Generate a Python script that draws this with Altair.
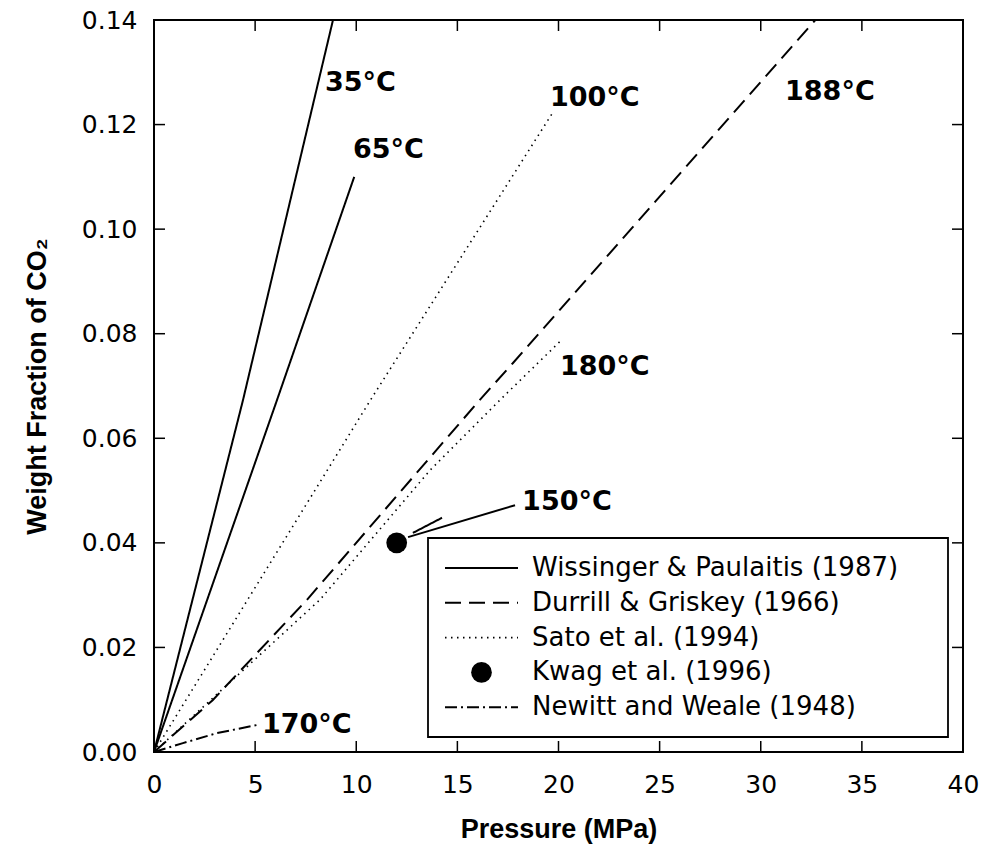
import altair as alt
import pandas as pd

# ---------------- data ----------------
# Wissinger & Paulaitis (1987) - solid
wis35_p = [0, 4.4, 8.85]
wis35_w = [0, 0.0673, 0.140]
wis65_p = [0, 6.08, 9.9]
wis65_w = [0, 0.0673, 0.110]
wis150_p = [12.8, 14.24]
wis150_w = [0.0419, 0.0448]
# Durrill & Griskey (1966) - dashed
dur188_p = [0, 2.9, 7.56, 16.1, 17.75, 32.7]
dur188_w = [0, 0.0099, 0.0291, 0.0673, 0.0744, 0.140]
# Sato et al. (1994) - dotted
sat100_p = [0, 10.7, 19.75]
sat100_w = [0, 0.0673, 0.1225]
sat180_p = [0, 8.2, 13.65, 17.1, 20.15]
sat180_w = [0, 0.0291, 0.0539, 0.0673, 0.0788]
# Kwag et al. (1996) - point
kwag_p = [12.0]
kwag_w = [0.040]
# Newitt and Weale (1948) - dash-dot
new170_p = [0, 1.43, 3.1, 5.14]
new170_w = [0, 0.0017, 0.0036, 0.0052]

# temperature labels
lab_text = ["35°C", "65°C", "100°C", "188°C", "180°C", "150°C", "170°C"]
lab_p = [8.45, 9.84, 19.58, 31.2, 20.07, 18.2, 5.34]
lab_w = [0.128, 0.1151, 0.1251, 0.1262, 0.0736, 0.0478, 0.0052]

# 150°C pointer
ptr_p = [12.56]
ptr_w = [0.0411]
ptr_p2 = [17.85]
ptr_w2 = [0.0472]

x_ticks = [0, 5, 10, 15, 20, 25, 30, 35, 40]
y_ticks = [0.00, 0.02, 0.04, 0.06, 0.08, 0.10, 0.12, 0.14]

legend_labels = ["Wissinger & Paulaitis (1987)", "Durrill & Griskey (1966)",
                 "Sato et al. (1994)", "Kwag et al. (1996)", "Newitt and Weale (1948)"]

# ---------------- build tables ----------------
curves = [
    ("wis35", "solid", wis35_p, wis35_w),
    ("wis65", "solid", wis65_p, wis65_w),
    ("wis150", "solid", wis150_p, wis150_w),
    ("dur188", "dashed", dur188_p, dur188_w),
    ("sat100", "dotted", sat100_p, sat100_w),
    ("sat180", "dotted", sat180_p, sat180_w),
    ("new170", "dashdot", new170_p, new170_w),
]
rows = []
for name, style, ps, ws in curves:
    for i, (p, w) in enumerate(zip(ps, ws)):
        rows.append({"curve": name, "style": style, "P": p, "w": w, "o": i})
lines_df = pd.DataFrame(rows)

W, H = 809, 732
xs = alt.Scale(domain=[0, 40], nice=False, zero=False)
ys = alt.Scale(domain=[0, 0.14], nice=False, zero=False)

dash = {"solid": [1, 0], "dashed": [16, 8], "dotted": [1.5, 4.5], "dashdot": [12, 4, 2, 4]}
widths = {"solid": 2, "dashed": 2, "dotted": 1.6, "dashdot": 2}

X_AX = alt.X("P:Q", scale=xs,
             axis=alt.Axis(values=x_ticks, title="Pressure (MPa)", format="d", labelFlush=False))
Y_AX = alt.Y("w:Q", scale=ys,
             axis=alt.Axis(values=y_ticks, title="Weight Fraction of CO₂", format=".2f", labelFlush=False))
X_ = alt.X("P:Q", scale=xs, title="Pressure (MPa)")
Y_ = alt.Y("w:Q", scale=ys, title="Weight Fraction of CO₂")

layers = []
first = True
for style in ["solid", "dashed", "dotted", "dashdot"]:
    c = alt.Chart(lines_df).transform_filter(alt.datum.style == style).mark_line(
        color="black", strokeWidth=widths[style], strokeDash=dash[style]
    ).encode(
        x=X_AX if first else X_,
        y=Y_AX if first else Y_,
        detail="curve:N",
        order="o:Q",
    )
    first = False
    layers.append(c)

kwag_df = pd.DataFrame({"P": kwag_p, "w": kwag_w})
layers.append(alt.Chart(kwag_df).mark_point(filled=True, color="black", size=430, opacity=1).encode(
    x=X_, y=Y_))

ptr_df = pd.DataFrame({"P": ptr_p, "w": ptr_w, "P2": ptr_p2, "w2": ptr_w2})
layers.append(alt.Chart(ptr_df).mark_rule(color="black", strokeWidth=2).encode(
    x=X_, y=Y_, x2="P2:Q", y2="w2:Q"))

lab_df = pd.DataFrame({"t": lab_text, "P": lab_p, "w": lab_w})
layers.append(alt.Chart(lab_df).mark_text(
    font="DejaVu Sans", fontWeight="bold", fontSize=27, align="left", baseline="middle", color="black"
).encode(x=X_, y=Y_, text="t:N"))

# inward ticks on all four sides
xt_df = pd.DataFrame({"P": x_ticks[1:-1]})
yt_df = pd.DataFrame({"w": y_ticks[1:-1]})
TL = 11
layers.append(alt.Chart(xt_df).mark_rule(color="black", strokeWidth=1.5).encode(
    x=X_, y=alt.value(H), y2=alt.value(H - TL)))
layers.append(alt.Chart(xt_df).mark_rule(color="black", strokeWidth=1.5).encode(
    x=X_, y=alt.value(0), y2=alt.value(TL)))
layers.append(alt.Chart(yt_df).mark_rule(color="black", strokeWidth=1.5).encode(
    y=Y_, x=alt.value(0), x2=alt.value(TL)))
layers.append(alt.Chart(yt_df).mark_rule(color="black", strokeWidth=1.5).encode(
    y=Y_, x=alt.value(W), x2=alt.value(W - TL)))

# legend (box, samples, labels)
LX0, LX1, LY0, LY1 = 274, 794, 518, 717
row_y0, row_dy = 548, 34.8
sx0, sx1, tx = 291, 364, 378
one = pd.DataFrame({"a": [0]})
layers.append(alt.Chart(one).mark_rect(fill="white", stroke="black", strokeWidth=1.8).encode(
    x=alt.value(LX0), x2=alt.value(LX1), y=alt.value(LY0), y2=alt.value(LY1)))
leg_styles = ["solid", "dashed", "dotted", None, "dashdot"]
for i, (lab, st) in enumerate(zip(legend_labels, leg_styles)):
    yy = row_y0 + i * row_dy
    if st is None:
        layers.append(alt.Chart(one).mark_point(filled=True, color="black", size=430, opacity=1).encode(
            x=alt.value((sx0 + sx1) / 2), y=alt.value(yy)))
    else:
        layers.append(alt.Chart(one).mark_rule(color="black", strokeWidth=widths[st],
                                               strokeDash=dash[st]).encode(
            x=alt.value(sx0), x2=alt.value(sx1), y=alt.value(yy)))
leg_df = pd.DataFrame({"t": legend_labels, "i": list(range(len(legend_labels)))})
layers.append(alt.Chart(leg_df).mark_text(
    font="DejaVu Sans", fontSize=26, align="left", baseline="middle", color="black"
).transform_calculate(yy=f"{row_y0} + datum.i * {row_dy}").encode(
    x=alt.value(tx), y=alt.Y("yy:Q", scale=None, axis=None), text="t:N"))

chart = alt.layer(*layers).properties(
    width=W, height=H,
    autosize=alt.AutoSizeParams(type="none"),
    padding={"left": 154, "top": 20, "right": 28, "bottom": 105},
    background="white",
).configure_view(
    stroke="black", strokeWidth=2, fill="white"
).configure_axis(
    domain=False, ticks=False, grid=False,
    labelFont="DejaVu Sans", labelFontSize=25, labelColor="black",
    titleFont="Liberation Sans", titleFontSize=27, titleFontWeight="bold", titleColor="black",
).configure_axisX(
    labelPadding=20, titlePadding=19,
).configure_axisY(
    labelPadding=17, titlePadding=30,
)

chart.save("out.html", embed_options={"renderer": "svg", "actions": False})
